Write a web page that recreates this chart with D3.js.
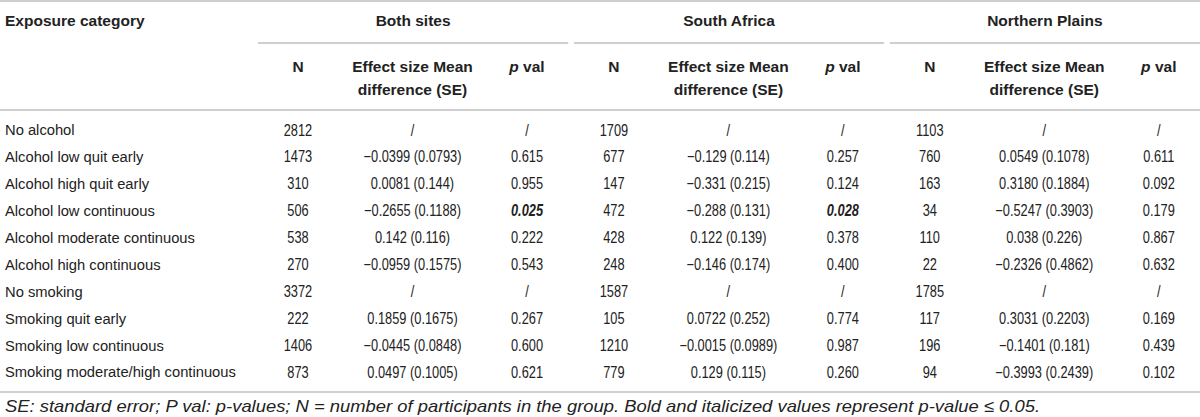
<!DOCTYPE html>
<html>
<head>
<meta charset="utf-8">
<script src="https://cdn.jsdelivr.net/npm/d3@7"></script>
<style>
body { margin:0; background:#fff; }
svg text { font-family: "Liberation Sans", Arial, sans-serif; fill:#222; }
</style>
</head>
<body>
<script>
// table contents
var categories = ["No alcohol","Alcohol low quit early","Alcohol high quit early","Alcohol low continuous",
  "Alcohol moderate continuous","Alcohol high continuous","No smoking","Smoking quit early",
  "Smoking low continuous","Smoking moderate/high continuous"];

var sites = ["Both sites","South Africa","Northern Plains"];
var subHeads = ["N","Effect size Mean|difference (SE)","p val"];

var bothN   = ["2812","1473","310","506","538","270","3372","222","1406","873"];
var bothEff = ["/","\u22120.0399 (0.0793)","0.0081 (0.144)","\u22120.2655 (0.1188)","0.142 (0.116)","\u22120.0959 (0.1575)","/","0.1859 (0.1675)","\u22120.0445 (0.0848)","0.0497 (0.1005)"];
var bothP   = ["/","0.615","0.955","0.025","0.222","0.543","/","0.267","0.600","0.621"];

var saN   = ["1709","677","147","472","428","248","1587","105","1210","779"];
var saEff = ["/","\u22120.129 (0.114)","\u22120.331 (0.215)","\u22120.288 (0.131)","0.122 (0.139)","\u22120.146 (0.174)","/","0.0722 (0.252)","\u22120.0015 (0.0989)","0.129 (0.115)"];
var saP   = ["/","0.257","0.124","0.028","0.378","0.400","/","0.774","0.987","0.260"];

var npN   = ["1103","760","163","34","110","22","1785","117","196","94"];
var npEff = ["/","0.0549 (0.1078)","0.3180 (0.1884)","\u22120.5247 (0.3903)","0.038 (0.226)","\u22120.2326 (0.4862)","/","0.3031 (0.2203)","\u22120.1401 (0.181)","\u22120.3993 (0.2439)"];
var npP   = ["/","0.611","0.092","0.179","0.867","0.632","/","0.169","0.439","0.102"];

var footnote = "SE: standard error; P val: p-values; N = number of participants in the group. Bold and italicized values represent p-value \u2264 0.05.";

var siteCols = [[bothN,bothEff,bothP],[saN,saEff,saP],[npN,npEff,npP]];

var W = 1200, H = 417;
var lineColor = "#cfcfcf";

var svg = d3.select("body").append("svg")
    .attr("width", W).attr("height", H);

// scales
var yScale = d3.scalePoint().domain(categories).range([130, 372]);
var groupScale = d3.scaleBand().domain(sites).range([258, 1200]).paddingInner(0.018);
var colScale = d3.scalePoint().domain(subHeads).range([40, 269]);

var fs = 15.5;

// squeeze text horizontally, the original uses a condensed face
var condense = function(sel, k){
    sel.each(function(){
        var w = this.getComputedTextLength();
        d3.select(this).attr("textLength", w*k).attr("lengthAdjust","spacingAndGlyphs");
    });
};

// rules
[1, 110, 392].forEach(function(y){
    svg.append("line").attr("x1",0).attr("x2",W).attr("y1",y).attr("y2",y)
        .attr("stroke",lineColor).attr("stroke-width",2);
});

svg.selectAll(".grpline").data(sites).enter().append("line")
    .attr("class","grpline")
    .attr("x1", function(d){ return groupScale(d); })
    .attr("x2", function(d){ return groupScale(d) + groupScale.bandwidth(); })
    .attr("y1",43).attr("y2",43)
    .attr("stroke",lineColor).attr("stroke-width",2);

// header
svg.append("text").attr("x",5).attr("y",21).attr("dy","0.35em")
    .attr("font-size",fs).attr("font-weight","bold").text("Exposure category");

svg.selectAll(".grphead").data(sites).enter().append("text")
    .attr("class","grphead")
    .attr("x", function(d){ return groupScale(d) + groupScale.bandwidth()/2; })
    .attr("y",21).attr("dy","0.35em")
    .attr("text-anchor","middle").attr("font-size",fs).attr("font-weight","bold")
    .text(function(d){ return d; });

sites.forEach(function(site){
    var g = svg.append("g").attr("transform","translate("+groupScale(site)+",0)");
    subHeads.forEach(function(h){
        var parts = h.split("|");
        var t = g.append("text")
            .attr("x", colScale(h)).attr("y",67).attr("dy","0.35em")
            .attr("text-anchor","middle").attr("font-size",fs).attr("font-weight","bold");
        if (h == "p val") {
            t.append("tspan").attr("font-style","italic").text("p");
            t.append("tspan").text(" val");
        } else {
            t.text(parts[0]);
            if (parts.length > 1) {
                g.append("text").attr("x", colScale(h)).attr("y",90).attr("dy","0.35em")
                    .attr("text-anchor","middle").attr("font-size",fs).attr("font-weight","bold")
                    .text(parts[1]);
            }
        }
    });
});

// body rows
svg.selectAll(".rowlabel").data(categories).enter().append("text")
    .attr("class","rowlabel")
    .attr("x",5).attr("y", function(d){ return yScale(d); }).attr("dy","0.35em")
    .attr("font-size",fs)
    .text(function(d){ return d; })
    .call(condense, 0.95);

var isSig = function(d, ci){ return ci == 2 && d != "/" && +d <= 0.05; };

sites.forEach(function(site, si){
    var g = svg.append("g").attr("transform","translate("+groupScale(site)+",0)");
    siteCols[si].forEach(function(col, ci){
        g.selectAll(".c"+ci).data(col).enter().append("text")
            .attr("class","cell c"+ci)
            .attr("x", colScale(subHeads[ci]))
            .attr("y", function(d,i){ return yScale(categories[i]); })
            .attr("dy","0.35em")
            .attr("text-anchor","middle").attr("font-size",16)
            .attr("font-weight", function(d){ return isSig(d,ci) ? "bold" : null; })
            .attr("font-style", function(d){ return isSig(d,ci) ? "italic" : null; })
            .text(function(d){ return d; })
            .call(condense, 0.8);
    });
});

// footnote
svg.append("text").attr("x",5).attr("y",406).attr("dy","0.35em")
    .attr("font-size",17).attr("font-style","italic")
    .attr("textLength",1035).attr("lengthAdjust","spacingAndGlyphs")
    .text(footnote);
</script>
</body>
</html>
